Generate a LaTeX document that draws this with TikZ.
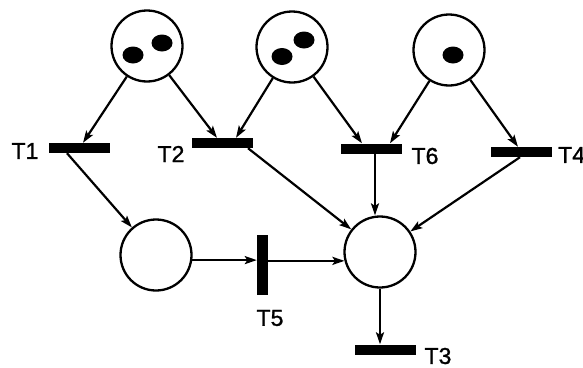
\documentclass[tikz,border=0pt]{standalone}
\usepackage{fontspec}
\setmainfont{Liberation Sans}
\usetikzlibrary{arrows.meta}
\begin{document}
\begin{tikzpicture}[x=1pt,y=-1pt,
  place/.style={circle,draw,line width=2.3pt,minimum size=71pt,inner sep=0pt},
  trans/.style={rectangle,fill=black,inner sep=0pt,minimum width=61pt,minimum height=10pt},
  vtrans/.style={rectangle,fill=black,inner sep=0pt,minimum width=11pt,minimum height=60pt},
  arc/.style={line width=2.2pt,-{Stealth[length=12pt,width=8pt,inset=2.5pt]}},
  lbl/.style={inner sep=0pt,font=\fontsize{23}{23}\selectfont\addfontfeatures{FakeBold=1.2}},
  token/.style={fill=black}]
\useasboundingbox (0,0) rectangle (583,367);

% places
\node[place] (P1) at (147,46) {};
\node[place] (P2) at (292,47) {};
\node[place] (P3) at (449,50) {};
\node[place] (P4) at (156,255) {};
\node[place] (P5) at (380,252) {};

% tokens
\fill[token] (133,55) ellipse (10.5 and 8.5);
\fill[token] (162,43) ellipse (10.5 and 8.5);
\fill[token] (282,56.5) ellipse (10.5 and 8.5);
\fill[token] (304,40) ellipse (10.5 and 8.5);
\fill[token] (453,55) ellipse (10.5 and 8.5);

% transitions
\node[trans] (T1) at (79,148) {};
\node[trans] (T2) at (222,143) {};
\node[trans] (T6) at (371,148.5) {};
\node[trans] (T4) at (521,152) {};
\node[vtrans] (T5) at (262.5,265) {};
\node[trans] (T3) at (385.5,349.5) {};

% transition labels
\node[lbl] (lT1) at (25,151) {T1};
\node[lbl] (lT2) at (171,154) {T2};
\node[lbl] (lT6) at (425,156) {T6};
\node[lbl,anchor=west] (lT4) at (558,155) {T4};
\node[lbl] (lT5) at (270,318) {T5};
\node[lbl] (lT3) at (438,356) {T3};

% input arcs
\draw[arc] (P1) -- ([xshift=4pt]T1.north);
\draw[arc] (P1) -- ([xshift=-5pt]T2.north);
\draw[arc] (P2) -- ([xshift=14pt]T2.north);
\draw[arc] (P2) -- ([xshift=-9pt]T6.north);
\draw[arc] (P3) -- ([xshift=19pt]T6.north);
\draw[arc] (P3) -- ([xshift=-3pt]T4.north);
\draw[arc] (P4.-8) -- (P4.-8 -| T5.west);
\draw[arc] (P5) -- (P5 |- T3.north);

% output arcs
\draw[arc] ([xshift=-12pt]T1.south) -- (P4);
\draw[arc] ([xshift=26pt]T2.south) -- (P5);
\draw[arc] ([xshift=4pt]T6.south) -- ([xshift=4pt]T6.south |- P5.north);
\draw[arc] ([xshift=-1pt]T4.south) -- (P5);
\draw[arc] (P5.194.5 -| T5.east) -- (P5.194.5);
\end{tikzpicture}
\end{document}
